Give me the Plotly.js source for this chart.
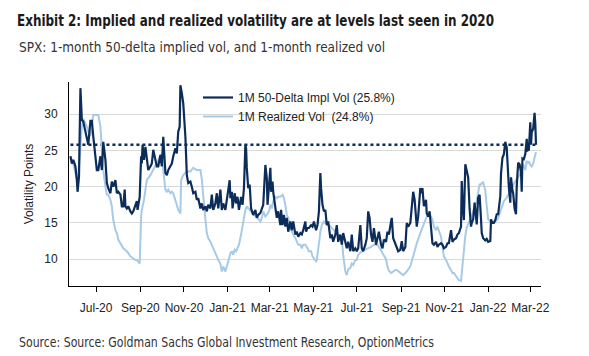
<!DOCTYPE html>
<html><head><meta charset="utf-8">
<script src="https://cdn.plot.ly/plotly-3.0.1.min.js"></script>
<style>html,body{margin:0;padding:0;background:#fff;overflow:hidden}</style>
</head><body>
<div id="chart" style="width:589px;height:356px"></div>
<script>
// Day offsets are counted from this date
const baseDate = '2020-07-01';

// 1M 50-delta implied vol
const implDays = [
 -36,-34,-32,-29,-27,-26,-24,-22,-20,-18,
 -15,-13,-11,-8,-6,-4,-1,1,3,6,
 8,10,13,15,17,20,22,24,27,29,
 31,34,36,38,40,41,43,45,48,50,
 52,55,57,58,61,63,64,65,67,69,
 71,73,76,78,80,83,85,87,90,92,
 94,97,99,101,104,106,108,111,113,115,
 117,118,120,122,125,127,129,132,134,136,
 139,141,143,146,148,150,153,155,157,160,
 162,164,167,169,171,174,176,178,181,183,
 185,187,188,190,191,194,196,198,200,203,
 205,207,209,210,211,213,215,217,220,223,
 225,227,230,232,234,237,239,240,242,244,
 245,247,248,251,253,255,258,259,261,263,
 265,267,269,272,274,276,279,281,283,286,
 288,290,293,294,296,298,301,303,305,308,
 310,312,314,315,317,319,321,323,325,328,
 330,332,335,337,339,342,344,346,349,351,
 353,356,358,360,363,365,367,370,372,374,
 377,379,381,383,385,387,389,392,394,396,
 399,401,403,406,408,410,413,414,416,419,
 421,423,426,428,430,433,435,437,440,442,
 444,446,448,449,451,454,456,457,459,462,
 463,465,467,469,471,473,476,478,480,483,
 485,487,490,492,494,497,499,501,504,506,
 508,511,512,513,515,517,519,521,523,525,
 526,528,530,532,533,535,537,539,540,542,
 545,547,549,552,553,555,557,559,561,563,
 566,567,569,571,573,575,576,578,580,581,
 583,584,586,588,589,591,593,595,596,597,
 599,601,603,604,606,608,609,610,612,614,
 615,616];
const implVol = [
 24.2,23.2,23.7,22.8,20.9,19.3,21.4,33.6,29.2,29.0,
 27.6,26.5,25.8,29.1,29.1,26.9,23.7,22.3,22.3,24.2,
 22.3,26.2,23.7,20.5,19.8,19.1,20.7,20.0,20.9,19.1,
 19.3,18.9,17.3,17.3,19.6,17.3,17.0,17.3,16.6,16.3,
 16.6,17.3,18.0,16.8,18.6,24.2,23.2,25.8,23.7,25.5,
 23.7,22.3,22.8,23.2,25.1,23.7,22.8,22.8,24.4,22.8,
 26.9,21.9,21.6,22.3,22.8,23.2,24.2,25.3,24.6,27.6,
 28.3,34.0,32.9,31.5,26.9,21.6,20.5,20.7,20.0,19.1,
 19.3,18.2,18.4,17.0,17.7,16.8,17.3,16.6,17.5,17.0,
 18.9,16.8,17.7,19.1,17.0,19.6,16.8,17.7,16.8,18.0,
 19.8,20.9,18.4,19.3,17.0,19.1,17.7,18.6,16.8,18.6,
 17.5,19.8,25.8,25.3,22.6,19.8,20.3,17.0,16.1,16.8,
 15.7,16.1,16.4,17.0,17.5,23.0,21.2,17.5,19.8,22.6,
 19.3,20.7,19.3,17.0,15.7,16.6,14.7,16.8,14.7,16.1,
 14.5,15.7,13.8,15.2,14.0,15.2,13.4,13.8,13.1,13.6,
 13.4,14.0,15.2,13.8,14.3,14.3,14.7,14.5,15.2,14.0,
 14.7,16.6,21.9,19.8,17.5,16.6,16.8,14.7,15.2,12.9,
 13.4,12.4,13.4,14.7,12.4,13.4,12.0,13.6,12.0,11.5,
 12.4,11.1,13.4,11.1,11.5,11.1,11.5,14.7,11.5,11.1,
 12.0,12.9,16.6,15.7,13.4,12.4,14.3,12.0,12.9,13.8,
 12.0,11.5,12.7,12.4,13.8,13.4,15.2,15.7,12.9,12.0,
 11.5,11.1,11.3,12.5,11.1,11.7,15.0,14.5,15.0,16.8,
 19.3,18.2,15.4,14.5,15.9,19.8,19.1,19.8,17.3,18.2,
 16.3,15.9,16.6,14.0,12.2,12.0,12.4,11.7,12.0,12.2,
 12.0,11.5,11.7,12.2,12.2,14.0,12.4,12.7,12.9,13.4,
 13.6,14.5,20.8,18.2,15.4,23.1,22.2,21.3,17.0,14.5,
 15.0,15.5,17.8,16.0,14.8,18.5,18.9,15.5,13.6,12.9,
 12.6,12.8,12.4,12.5,15.5,15.0,15.0,15.4,16.2,16.2,
 18.7,21.8,24.0,24.5,26.2,25.4,23.1,19.9,17.8,21.3,
 19.5,19.1,17.0,16.2,20.0,23.3,23.1,22.0,19.3,23.9,
 23.8,24.5,26.6,25.0,25.1,28.9,25.8,27.5,28.0,30.2,
 28.7,25.8];

// 1M realized vol
const realDays = [
 -36,-32,-27,-25,-22,-20,-18,-15,-13,-11,
 -8,-6,-4,-1,1,3,6,8,10,13,
 15,17,20,22,24,27,29,31,34,36,
 38,43,48,52,55,57,59,61,63,64,
 67,69,71,76,80,85,90,92,94,97,
 99,101,104,106,108,111,113,115,118,119,
 122,127,132,136,141,146,148,150,153,155,
 157,160,162,164,167,169,171,174,176,178,
 181,183,185,188,190,192,194,196,198,200,
 203,205,207,209,211,213,215,220,225,230,
 232,234,237,239,242,244,246,248,251,253,
 255,258,261,263,265,267,269,272,274,276,
 279,281,283,286,288,290,293,296,298,301,
 303,305,308,309,311,313,314,316,319,321,
 325,330,335,339,344,346,349,351,353,356,
 358,360,363,365,367,372,377,381,385,389,
 394,399,403,406,408,410,413,416,419,421,
 426,430,435,440,444,449,454,459,463,469,
 471,473,476,478,480,483,485,487,490,492,
 494,497,499,501,504,506,508,511,512,513,
 515,517,519,521,523,525,526,528,530,532,
 533,535,537,539,540,542,545,547,549,552,
 553,555,559,563,566,569,571,575,578,580,
 583,586,588,591,593,596,598,599,601,603,
 604,606,608,610,612,614,615,616];
const realVol = [
 24.2,23.2,21.0,21.5,25.5,28.3,29.4,28.8,28.3,27.6,
 27.0,28.5,29.9,29.9,29.9,29.9,28.3,24.6,22.3,20.0,
 18.9,18.9,18.2,17.3,15.4,14.0,13.6,12.7,12.2,12.0,
 11.5,11.1,10.4,10.1,9.9,9.9,9.7,9.4,15.9,16.8,
 18.2,20.0,20.9,21.6,22.3,23.2,24.2,24.6,22.3,19.6,
 19.3,19.6,19.1,19.3,19.1,18.2,17.3,16.8,16.3,20.9,
 21.6,22.1,22.1,22.6,22.3,22.3,21.0,18.5,15.5,13.6,
 12.9,12.4,12.0,11.5,10.8,10.4,9.9,9.4,8.3,9.0,
 8.3,9.2,9.7,10.8,11.1,10.6,11.3,11.1,11.5,12.0,
 13.4,14.5,15.8,16.8,17.3,17.0,16.8,16.2,15.8,15.2,
 15.7,16.6,15.9,16.1,16.6,17.5,17.0,18.0,18.6,18.4,
 18.6,18.6,18.9,18.4,17.5,16.1,15.7,14.3,13.8,13.4,
 12.9,12.4,12.0,12.0,11.5,12.0,12.0,11.5,11.1,11.1,
 10.4,10.1,9.7,9.9,11.1,12.9,13.8,14.7,15.2,15.0,
 14.8,14.3,13.8,13.4,12.9,10.6,8.3,7.8,8.6,8.8,
 9.4,9.2,9.9,9.9,10.6,11.1,11.3,11.5,11.7,12.0,
 12.0,11.2,10.5,10.0,9.0,8.4,8.1,8.3,8.5,8.5,
 8.1,7.8,8.3,9.0,10.4,12.2,13.6,15.0,15.9,15.9,
 15.4,14.5,14.0,14.5,14.0,13.1,11.7,10.4,9.9,9.4,
 9.0,8.5,8.1,8.1,7.6,7.4,7.1,7.0,8.1,9.8,
 11.6,13.2,14.4,15.0,15.3,15.7,16.0,16.4,16.9,17.5,
 18.0,19.2,20.3,20.3,20.5,20.6,19.5,17.3,15.5,15.2,
 15.1,15.0,15.2,15.6,16.6,17.3,18.0,18.5,19.0,19.5,
 20.0,20.6,20.9,21.4,21.6,22.5,23.1,22.8,22.3,23.6,
 23.2,23.5,23.0,22.8,23.2,24.0,24.5,24.8];

const implLatest = 25.8;   // dotted reference level
const seriesNames = ['1M 50-Delta Impl Vol (25.8%)', '1M Realized Vol\u00a0 (24.8%)'];
const titleText = 'Exhibit 2: Implied and realized volatility are at levels last seen in 2020';
const subtitleText = 'SPX: 1-month 50-delta implied vol, and 1-month realized vol';
const sourceText = 'Source: Source: Goldman Sachs Global Investment Research, OptionMetrics';
const yTitle = 'Volatility Points';

const base = Date.parse(baseDate + 'T00:00:00Z');
const toDate = d => new Date(base + d * 86400000).toISOString().slice(0, 10);
const implDates = implDays.map(toDate);
const realDates = realDays.map(toDate);

const W = 589, H = 356;
const M = {l: 69, r: 48, t: 82, b: 70};
const PW = W - M.l - M.r, PH = H - M.t - M.b;
const px = x => (x - M.l) / PW;
const py = y => (H - M.b - y) / PH;

const dark = '#0c2d5a', light = '#a7cbe7';
const condensed = '"Liberation Sans Narrow", "DejaVu Sans Condensed", "Roboto", sans-serif';
const arial = '"Liberation Sans", Arial, sans-serif';

const traces = [
  {x: realDates, y: realVol, type: 'scatter', mode: 'lines', name: seriesNames[1],
   line: {color: light, width: 2}, legendrank: 2},
  {x: implDates, y: implVol, type: 'scatter', mode: 'lines', name: seriesNames[0],
   line: {color: dark, width: 2.2}, legendrank: 1}
];

const layout = {
  width: W, height: H, margin: M,
  paper_bgcolor: '#fff', plot_bgcolor: '#fff',
  font: {family: arial, size: 12, color: '#222'},
  title: {text: titleText, xref: 'container', yref: 'container', x: 17 / W, xanchor: 'left',
          y: 1 - 21 / H, yanchor: 'middle', pad: {t: 0, b: 0, l: 0, r: 0},
          font: {family: condensed, size: 15, weight: 'bold', color: '#1b1b1b'}},
  showlegend: true,
  legend: {x: px(198), y: py(83), xanchor: 'left', yanchor: 'top', bgcolor: 'rgba(0,0,0,0)',
           borderwidth: 0, font: {family: arial, size: 12, color: '#222'}, tracegroupgap: 0},
  xaxis: {type: 'date', range: ['2020-05-24', '2022-03-16'], tick0: '2020-07-01', dtick: 'M2',
          tickformat: '%b-%y', ticks: 'outside', ticklen: 5, tickwidth: 1, tickcolor: '#000',
          showline: true, linecolor: '#000', linewidth: 1, showgrid: false, zeroline: false,
          ticklabelstandoff: 6,
          tickfont: {family: arial, size: 12, color: '#222'}},
  yaxis: {range: [6.3, 34.45], tick0: 0, dtick: 5, ticks: '', showline: true, linecolor: '#000',
          linewidth: 1, showgrid: true, gridcolor: '#d9d9d9', gridwidth: 1, zeroline: false,
          ticklabelstandoff: 8,
          tickfont: {family: arial, size: 12, color: '#222'},
          title: {text: yTitle, standoff: 8, font: {family: arial, size: 12, color: '#222'}}},
  shapes: [{type: 'line', xref: 'x', yref: 'y', layer: 'below',
            x0: implDates[0], x1: implDates[implDates.length - 1], y0: implLatest, y1: implLatest,
            line: {color: dark, width: 2.5, dash: 'dot'}}],
  annotations: [
    {text: subtitleText, xref: 'paper', yref: 'paper', x: px(17), y: py(47), xanchor: 'left',
     align: 'left', yanchor: 'middle', showarrow: false,
     font: {family: condensed, size: 14, color: '#333'}},
    {text: sourceText, xref: 'paper', yref: 'paper', x: px(17), y: py(342), xanchor: 'left',
     align: 'left', yanchor: 'middle', showarrow: false,
     font: {family: condensed, size: 14, color: '#333'}}
  ]
};

Plotly.newPlot('chart', traces, layout, {displayModeBar: false, staticPlot: true}).then(() => {
  // fit the condensed text blocks to the widths they take in the original
  const fit = (el, w) => {
    if (!el) return;
    el.setAttribute('textLength', w);
    el.setAttribute('lengthAdjust', 'spacingAndGlyphs');
  };
  fit(document.querySelector('.gtitle'), 477);
  const ann = document.querySelectorAll('.annotation-text');
  fit(ann[0], 366);
  fit(ann[1], 415);
});
</script>
</body></html>
